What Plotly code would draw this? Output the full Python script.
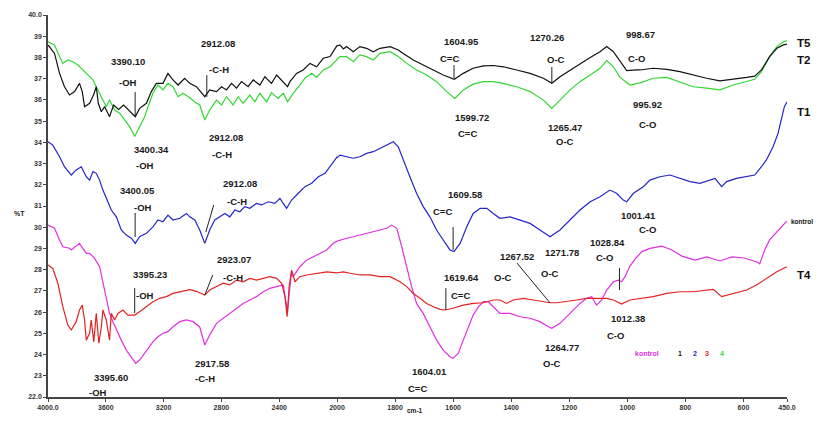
import plotly.graph_objects as go

# ---------------- data (wavenumber cm-1, %T) ----------------
t5_wn = [4000,3955,3920,3886,3851,3816,3782,3763,3747,3712,
         3685,3666,3652,3631,3608,3574,3546,3511,3477,3447,
         3416,3396,3366,3319,3285,3250,3204,3170,3135,3100,
         3054,3019,2973,2915,2881,2834,2799,2765,2730,2695,
         2661,2615,2580,2534,2499,2453,2418,2372,2342,2326,
         2280,2234,2187,2141,2095,2048,2002,1990,1978,1967,
         1944,1921,1898,1875,1852,1817,1789,1772,1737,1703,
         1668,1634,1596,1565,1531,1496,1462,1427,1381,1335,
         1289,1260,1232,1197,1163,1128,1094,1071,1048,1025,
         1002,968,956,911,864,819,773,727,681,635,
         589,561,538,510,485,462,450]
t5_pct = [38.59,38.19,37.25,36.62,36.23,36.39,36.78,36.39,35.68,35.84,
          36.23,36.62,35.84,35.44,35.68,35.21,35.76,35.55,35.76,35.55,
          35.37,35.21,35.60,35.84,36.39,36.78,36.78,37.25,36.94,36.70,
          37.02,36.78,36.62,36.15,36.47,36.39,36.62,36.47,36.78,36.55,
          36.86,36.62,36.94,36.70,37.09,36.78,37.17,36.86,36.62,36.86,
          37.25,37.41,37.72,37.56,37.96,38.04,38.54,38.59,38.40,38.51,
          38.27,38.51,38.43,38.27,38.43,38.51,38.35,38.19,37.88,37.64,
          37.41,37.17,36.97,37.25,37.49,37.60,37.62,37.56,37.41,37.25,
          37.02,36.78,37.09,37.41,37.72,38.00,38.27,38.51,38.27,37.80,
          37.38,37.41,37.41,37.49,37.44,37.33,37.17,37.02,36.90,36.97,
          37.06,37.12,37.41,38.04,38.43,38.59,38.63]

t2_wn = [4000,3955,3920,3897,3863,3828,3793,3759,3724,3689,
         3666,3631,3597,3574,3539,3504,3470,3435,3400,3366,
         3331,3308,3274,3239,3204,3170,3135,3100,3066,3019,
         2980,2950,2915,2881,2834,2799,2765,2719,2684,2650,
         2603,2569,2534,2487,2453,2407,2372,2342,2303,2257,
         2222,2175,2141,2095,2048,2002,1990,1967,1944,1921,
         1898,1875,1852,1817,1789,1760,1726,1691,1657,1622,
         1594,1565,1531,1496,1462,1427,1381,1335,1289,1260,
         1232,1197,1163,1128,1094,1071,1048,1025,991,956,
         911,864,819,773,727,681,635,589,561,538,
         510,485,462,450]
t2_pct = [38.74,38.59,38.04,37.72,37.88,37.80,37.64,37.41,37.17,36.94,
          36.62,36.15,35.68,35.99,35.52,35.37,35.05,34.74,34.27,34.74,
          35.21,35.68,36.31,36.70,36.47,36.78,36.62,36.15,36.31,36.10,
          35.88,35.76,35.05,35.52,35.99,35.76,36.15,35.76,36.15,35.84,
          36.23,35.91,36.31,35.91,36.34,36.07,36.31,35.91,36.31,36.70,
          37.02,37.25,37.06,37.41,37.56,37.88,38.04,38.04,37.80,38.12,
          38.04,37.88,38.19,38.27,38.04,37.72,37.41,37.17,36.86,36.39,
          36.07,36.47,36.74,36.86,36.86,36.78,36.62,36.39,35.99,35.60,
          35.99,36.47,36.86,37.17,37.49,37.85,37.56,37.06,36.70,36.80,
          37.02,37.06,36.86,36.62,36.55,36.47,36.70,36.86,36.97,37.33,
          38.04,38.51,38.74,38.79]

t1_wn = [4000,3967,3920,3886,3839,3805,3770,3735,3712,3689,
         3666,3643,3620,3585,3562,3527,3493,3458,3423,3396,
         3366,3319,3274,3239,3204,3170,3135,3088,3042,3019,
         2984,2950,2915,2881,2846,2811,2776,2742,2707,2673,
         2638,2603,2557,2523,2476,2430,2395,2349,2314,2268,
         2222,2175,2129,2083,2048,2002,1990,1967,1944,1921,
         1898,1875,1852,1829,1806,1789,1772,1749,1726,1703,
         1680,1657,1634,1611,1597,1576,1553,1531,1507,1484,
         1462,1439,1404,1370,1335,1301,1266,1232,1197,1163,
         1128,1094,1060,1037,1014,1002,979,945,922,888,
         853,819,784,750,715,698,675,658,624,589,
         561,538,521,498,481,470,459,450]
t1_pct = [34.03,33.87,33.32,32.85,32.46,32.70,32.85,32.38,32.22,32.62,
          32.54,32.22,31.75,31.20,30.81,30.49,29.87,29.63,29.48,29.24,
          29.55,29.71,30.02,30.34,30.26,30.57,30.34,30.42,30.65,30.49,
          30.34,29.87,29.24,29.87,30.34,30.49,30.65,30.49,30.81,30.73,
          30.97,30.89,31.12,31.05,31.20,31.12,31.36,30.89,31.28,31.60,
          31.91,32.07,32.38,32.54,32.85,33.25,33.40,33.32,33.25,33.32,
          33.48,33.56,33.72,33.87,34.03,33.79,33.17,32.38,31.60,30.97,
          30.49,29.87,29.40,28.93,28.85,29.24,30.02,30.65,30.89,30.89,
          30.65,30.42,30.49,30.34,30.18,29.87,29.55,29.87,30.34,30.81,
          31.20,31.44,31.75,31.60,31.28,31.20,31.60,31.91,32.22,32.38,
          32.46,32.30,32.15,32.07,32.22,32.30,31.91,32.15,32.30,32.38,
          32.46,32.85,33.17,33.79,34.42,35.05,35.68,35.91]

kontrol_wn = [4000,3955,3920,3897,3851,3839,3782,3735,3712,3678,
              3643,3620,3597,3574,3551,3527,3493,3458,3423,3393,
              3366,3319,3274,3239,3204,3170,3135,3088,3042,2996,
              2950,2915,2881,2834,2788,2742,2695,2650,2603,2557,
              2511,2465,2418,2372,2356,2342,2331,2314,2303,2257,
              2210,2164,2118,2071,2026,1990,1967,1944,1921,1898,
              1875,1852,1829,1812,1794,1777,1760,1743,1726,1703,
              1680,1657,1634,1611,1600,1582,1565,1548,1531,1513,
              1496,1479,1462,1439,1404,1370,1335,1301,1272,1260,
              1232,1197,1163,1140,1123,1106,1088,1071,1048,1031,
              1020,1008,991,970,950,922,881,846,812,767,
              726,681,640,596,554,544,527,510,489,472,
              451]
kontrol_pct = [30.10,29.95,29.40,29.08,29.01,28.93,29.24,28.77,28.77,28.53,
               28.14,27.40,26.55,25.94,25.55,25.16,24.68,24.21,23.90,23.59,
               23.74,24.21,24.60,24.84,25.00,25.08,25.31,25.55,25.63,25.55,
               25.30,24.45,24.92,25.47,25.71,25.94,26.18,26.41,26.57,26.73,
               26.96,27.12,27.20,27.28,26.57,26.02,26.88,27.90,27.67,28.14,
               28.45,28.61,28.77,28.93,29.24,29.40,29.48,29.55,29.63,29.71,
               29.79,29.87,29.95,30.10,29.95,29.08,28.14,27.20,26.41,25.94,
               25.31,24.68,24.21,23.90,23.82,24.06,24.68,25.31,25.86,26.25,
               26.49,26.49,26.25,25.94,25.94,25.78,25.71,25.55,25.31,25.24,
               25.47,25.94,26.41,26.65,26.73,26.33,26.57,27.04,27.43,27.51,
               27.43,27.67,28.17,28.55,28.85,29.00,29.11,28.93,28.64,28.45,
               28.60,28.41,28.60,28.55,28.36,28.27,28.93,29.40,29.73,30.01,
               30.29]

t4_wn = [4000,3967,3932,3897,3863,3839,3805,3782,3763,3747,
         3735,3712,3701,3683,3666,3648,3631,3620,3597,3574,
         3562,3539,3516,3481,3447,3400,3366,3319,3274,3227,
         3181,3135,3088,3042,3019,2973,2950,2915,2881,2834,
         2788,2742,2695,2650,2603,2557,2511,2465,2418,2383,
         2360,2345,2331,2314,2291,2257,2210,2141,2071,2002,
         1978,1955,1921,1886,1852,1817,1783,1760,1737,1714,
         1691,1668,1645,1628,1600,1565,1531,1496,1462,1439,
         1416,1393,1358,1324,1289,1266,1243,1209,1174,1140,
         1106,1071,1048,1020,991,956,911,864,819,773,
         727,704,675,635,589,555,521,485,451]
t4_pct = [28.22,28.06,27.36,26.25,25.39,25.16,25.55,26.10,26.33,25.63,
          24.68,25.00,25.63,24.60,25.94,24.53,25.31,26.10,25.63,24.68,
          25.94,25.63,25.94,26.10,25.86,25.86,26.02,26.25,26.49,26.65,
          26.73,26.88,26.96,27.04,27.06,26.98,26.92,26.80,27.04,27.20,
          27.36,27.28,27.51,27.43,27.59,27.51,27.59,27.67,27.59,27.36,
          26.73,25.78,27.20,27.98,27.43,27.67,27.75,27.83,27.90,27.85,
          27.90,27.83,27.75,27.75,27.67,27.67,27.43,27.20,26.88,26.65,
          26.41,26.25,26.13,26.10,26.18,26.33,26.41,26.44,26.57,26.57,
          26.41,26.57,26.65,26.57,26.49,26.44,26.44,26.49,26.57,26.65,
          26.65,26.65,26.57,26.38,26.57,26.65,26.73,26.88,26.96,26.96,
          27.01,27.07,26.73,26.88,27.04,27.28,27.59,27.90,28.14]

x_ticks_high = [4000, 3600, 3200, 2800, 2400, 2000]
x_labels_high = ["4000.0", "3600", "3200", "2800", "2400", "2000"]
x_ticks_low = [1800, 1600, 1400, 1200, 1000, 800, 600, 450]
x_labels_low = ["1800", "1600", "1400", "1200", "1000", "800", "600", "450.0"]
y_ticks = list(range(22, 41))
y_labels = ["22.0"] + [str(v) for v in range(23, 40)] + ["40.0"]

# ---------------- figure ----------------
W, H = 828, 421
ML, MR, MT, MB = 48, 41, 15, 24
SPLIT = 289 / (W - ML - MR)

TXT = "Liberation Sans, Arial, sans-serif"
TXTC = "#1a1a1a"

fig = go.Figure()
series = [
    (kontrol_wn, kontrol_pct, "#e030e0"),
    (t4_wn, t4_pct, "#e32222"),
    (t1_wn, t1_pct, "#2424c8"),
    (t2_wn, t2_pct, "#33d633"),
    (t5_wn, t5_pct, "#111111"),
]
for wn, pct, col in series:
    for xa in ("x", "x2"):
        fig.add_trace(go.Scatter(x=wn, y=pct, mode="lines",
                                 line=dict(color=col, width=1.2),
                                 xaxis=xa, yaxis="y",
                                 showlegend=False, hoverinfo="skip"))

tickfont = dict(family="Liberation Sans, Arial, sans-serif", size=7,
                color="#333333", weight="bold")
axcommon = dict(showline=True, linecolor="#444444", linewidth=1.5,
                ticks="outside", ticklen=3, tickcolor="#444444",
                tickwidth=1, showgrid=False, zeroline=False,
                tickfont=tickfont, fixedrange=True, automargin=False)

fig.update_layout(
    template="none",
    width=W, height=H,
    margin=dict(l=ML, r=MR, t=MT, b=MB, pad=0),
    paper_bgcolor="white", plot_bgcolor="white",
    xaxis=dict(domain=[0, SPLIT], range=[4000, 2000], anchor="y",
               tickmode="array", tickvals=x_ticks_high,
               ticktext=x_labels_high, **axcommon),
    xaxis2=dict(domain=[SPLIT, 1], range=[2000, 450], anchor="y",
                tickmode="array", tickvals=x_ticks_low,
                ticktext=x_labels_low, **axcommon),
    yaxis=dict(domain=[0, 1], range=[22, 40], anchor="x",
               tickmode="array", tickvals=y_ticks, ticktext=y_labels,
               **axcommon),
)

# peak labels (text, axis, wavenumber, %T)
peak_labels = [
    ("3390.10", "x", 3449, 37.79), ("-OH", "x", 3449, 36.84),
    ("2912.08", "x", 2825, 38.68), ("-C-H", "x", 2818, 37.41),
    ("1604.95", "x2", 1570, 38.73), ("C=C", "x2", 1611, 37.93),
    ("1270.26", "x2", 1277, 38.96), ("O-C", "x2", 1246, 37.88),
    ("998.67", "x2", 956, 39.06), ("C-O", "x2", 967, 37.97),
    ("3400.34", "x", 3283, 33.64), ("-OH", "x", 3330, 32.93),
    ("2912.08", "x", 2770, 34.25), ("-C-H", "x", 2797, 33.45),
    ("1599.72", "x2", 1535, 35.19), ("C=C", "x2", 1552, 34.44),
    ("1265.47", "x2", 1215, 34.72), ("O-C", "x2", 1215, 34.02),
    ("995.92", "x2", 932, 35.76), ("C-O", "x2", 929, 34.82),
    ("3400.05", "x", 3379, 31.71), ("-OH", "x", 3345, 30.95),
    ("2912.08", "x", 2672, 32.04), ("-C-H", "x", 2693, 31.19),
    ("1609.58", "x2", 1559, 31.52), ("C=C", "x2", 1635, 30.72),
    ("1271.78", "x2", 1225, 28.83), ("O-C", "x2", 1266, 27.84),
    ("1001.41", "x2", 963, 30.57), ("C-O", "x2", 932, 29.87),
    ("3395.23", "x", 3296, 27.75), ("-OH", "x", 3331, 26.80),
    ("2923.07", "x", 2714, 28.50), ("-C-H", "x", 2721, 27.61),
    ("1619.64", "x2", 1570, 27.65), ("C=C", "x2", 1576, 26.80),
    ("1267.52", "x2", 1380, 28.60), ("O-C", "x2", 1428, 27.65),
    ("1012.38", "x2", 996, 25.72), ("C-O", "x2", 1040, 24.92),
    ("3395.60", "x", 3566, 22.94), ("-OH", "x", 3656, 22.23),
    ("2917.58", "x", 2866, 23.60), ("-C-H", "x", 2915, 22.89),
    ("1604.01", "x2", 1683, 23.18), ("C=C", "x2", 1724, 22.42),
    ("1264.77", "x2", 1225, 24.31), ("O-C", "x2", 1260, 23.60),
    ("1028.84", "x2", 1067, 29.30), ("C-O", "x2", 1078, 28.55),
]
anns = []
for text, xr, xv, yv in peak_labels:
    anns.append(dict(text=text, xref=xr, yref="y", x=xv, y=yv,
                     showarrow=False,
                     font=dict(family=TXT, size=9.5, color=TXTC,
                               weight="bold")))

# marker lines from labels to peaks
peak_lines = [
    ("x", 3397, 36.37, 3397, 35.24), ("x", 2901, 37.17, 2901, 36.14),
    ("x2", 1597, 37.64, 1597, 37.03), ("x2", 1260, 37.55, 1260, 36.80),
    ("x", 3397, 30.67, 3397, 29.54), ("x", 2853, 31.05, 2908, 29.77),
    ("x2", 1600, 30.01, 1600, 28.93), ("x", 3400, 27.13, 3400, 25.96),
    ("x", 2860, 27.75, 2915, 26.80), ("x2", 1625, 27.13, 1625, 26.10),
    ("x2", 1380, 28.31, 1266, 26.43), ("x2", 1027, 28.08, 1027, 27.04),
]
shapes = []
for xr, x0, y0, x1, y1 in peak_lines:
    shapes.append(dict(type="line", xref=xr, yref="y", x0=x0, y0=y0,
                       x1=x1, y1=y1, line=dict(color="#222222", width=1)))

# series names on the right
side = [("T5", 38.68), ("T2", 37.88), ("T1", 35.43), ("T4", 27.75)]
for name, yv in side:
    anns.append(dict(text=name, xref="paper", yref="y", x=1.0115, y=yv,
                     xanchor="left", showarrow=False,
                     font=dict(family="Liberation Sans, Arial", size=11.5,
                               color="#111111", weight="bold")))
anns.append(dict(text="kontrol", xref="paper", yref="y", x=1.003, y=30.25,
                 xanchor="left", showarrow=False,
                 font=dict(family="Liberation Sans, Arial", size=6.5,
                           color="#111111", weight="bold")))

# small colour key
key = [("kontrol", 932, "#e030e0"), ("1", 819, "#111111"),
       ("2", 767, "#2424c8"), ("3", 726, "#e32222"), ("4", 674, "#33d633")]
for text, xv, col in key:
    anns.append(dict(text=text, xref="x2", yref="y", x=xv, y=24.07,
                     showarrow=False,
                     font=dict(family="Liberation Sans, Arial", size=7,
                               color=col, weight="bold")))

# axis titles
anns.append(dict(text="%T", xref="paper", yref="y", x=-0.049, y=30.67,
                 showarrow=False,
                 font=dict(family="Liberation Sans, Arial", size=7,
                           color="#222222", weight="bold")))
anns.append(dict(text="cm-1", xref="paper", yref="paper",
                 x=0.497, y=-0.05, showarrow=False,
                 font=dict(family="Liberation Sans, Arial", size=6.5,
                           color="#222222", weight="bold")))

fig.update_layout(annotations=anns, shapes=shapes)
fig.write_html("out.html",
               config={"displayModeBar": False},
               post_script="document.body.style.margin='0';"
                           "document.body.style.overflow='hidden';")
